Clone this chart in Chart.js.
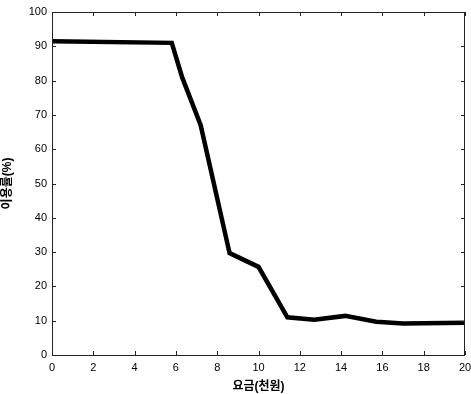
<!DOCTYPE html>
<html>
<head>
<meta charset="utf-8">
<script src="https://cdn.jsdelivr.net/npm/chart.js@4"></script>
<style>
  html, body { margin: 0; padding: 0; background: #fff; }
  #wrap { width: 471px; height: 394px; }
</style>
</head>
<body>
<div id="wrap"><canvas id="myChart" width="471" height="394"></canvas></div>
<script>
// data
const fee = [0, 5.8, 6.3, 7.2, 8.6, 10.0, 11.4, 12.7, 14.2, 15.7, 17.0, 20];
const usage = [91.5, 91, 81, 67, 29.7, 25.7, 11, 10.3, 11.4, 9.7, 9.2, 9.4];
const xTicks = [0, 2, 4, 6, 8, 10, 12, 14, 16, 18, 20];
const yTicks = [0, 10, 20, 30, 40, 50, 60, 70, 80, 90, 100];

const ctx = document.getElementById('myChart');

Chart.defaults.font.family = "Arial, 'Liberation Sans', 'Noto Sans CJK KR'";
Chart.defaults.font.size = 11;
Chart.defaults.color = '#000';

// box round the plot with inward ticks on all four sides
const boxPlugin = {
  id: 'box',
  afterDraw(chart) {
    const c = chart.ctx;
    const a = chart.chartArea;
    const x = chart.scales.x, y = chart.scales.y;
    c.save();
    c.strokeStyle = '#222';
    c.lineWidth = 1;
    c.strokeRect(a.left + 0.5, a.top + 0.5, a.right - a.left - 1, a.bottom - a.top);
    c.beginPath();
    xTicks.forEach(v => {
      const px = Math.round(x.getPixelForValue(v)) + 0.5;
      c.moveTo(px, a.bottom); c.lineTo(px, a.bottom - 4);
      c.moveTo(px, a.top); c.lineTo(px, a.top + 4);
    });
    yTicks.forEach(v => {
      const py = Math.round(y.getPixelForValue(v)) + 0.5;
      c.moveTo(a.left, py); c.lineTo(a.left + 4, py);
      c.moveTo(a.right, py); c.lineTo(a.right - 4, py);
    });
    c.stroke();
    c.restore();
  }
};

new Chart(ctx, {
  type: 'line',
  data: {
    datasets: [{
      data: fee.map((f, i) => ({ x: f, y: usage[i] })),
      borderColor: '#000',
      borderWidth: 4.5,
      pointRadius: 0,
      tension: 0,
      fill: false
    }]
  },
  options: {
    responsive: false,
    animation: false,
    layout: { padding: { top: 12, right: 6, left: 0, bottom: 0 } },
    plugins: { legend: { display: false }, tooltip: { enabled: false } },
    scales: {
      x: {
        type: 'linear',
        min: 0, max: 20,
        afterBuildTicks: s => { s.ticks = xTicks.map(v => ({ value: v })); },
        afterFit: s => { s.height = 39; s.paddingLeft = 0; s.paddingRight = 0; },
        grid: { display: false, drawTicks: false },
        border: { display: false },
        ticks: { padding: 6, maxRotation: 0, font: { size: 11 } },
        title: { display: true, text: '요금(천원)', font: { size: 12, weight: 'bold' }, padding: { top: 2, bottom: 0 } }
      },
      y: {
        min: 0, max: 100,
        afterBuildTicks: s => { s.ticks = yTicks.map(v => ({ value: v })); },
        afterFit: s => { s.width = 52; s.paddingTop = 0; s.paddingBottom = 0; },
        grid: { display: false, drawTicks: false },
        border: { display: false },
        ticks: { padding: 5, font: { size: 11 } },
        title: { display: true, text: '이용률(%)', font: { size: 12, weight: 'bold' }, padding: { top: 0, bottom: 2 } }
      }
    }
  },
  plugins: [boxPlugin]
});
</script>
</body>
</html>
